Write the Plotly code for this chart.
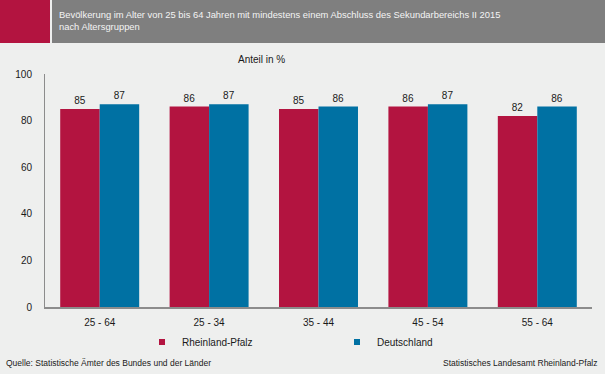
import plotly.graph_objects as go

categories = ["25 - 64", "25 - 34", "35 - 44", "45 - 54", "55 - 64"]
rlp_values = [85, 86, 85, 86, 82]
de_values = [87, 87, 86, 87, 86]
series_names = ["Rheinland-Pfalz", "Deutschland"]

RED = "#B31440"
BLUE = "#0071A3"
BG = "#EEEFEE"
HEADER_GRAY = "#7F7F7F"

W, H = 605, 374
L, R, T, B = 45, 13, 74, 67
PW = W - L - R
PH = H - T - B

def px(x):
    return (x - L) / PW

def py(y):
    return (H - B - y) / PH

fig = go.Figure()
for name, vals, col in [(series_names[0], rlp_values, RED), (series_names[1], de_values, BLUE)]:
    fig.add_trace(go.Bar(
        x=categories, y=vals, name=name, marker=dict(color=col, line=dict(width=0)),
        text=[str(v) for v in vals], textposition="outside",
        textfont=dict(size=10, color="#1a1a1a", family="Liberation Sans, Arial"),
        cliponaxis=False, showlegend=False, hoverinfo="skip",
    ))
    fig.add_trace(go.Scatter(
        x=[None], y=[None], mode="markers", name=name,
        marker=dict(symbol="square", size=6, color=col), showlegend=True,
    ))

fig.update_layout(
    width=W, height=H,
    margin=dict(l=L, r=R, t=T, b=B, pad=0),
    paper_bgcolor=BG, plot_bgcolor=BG,
    barmode="group", bargap=0.278, bargroupgap=0,
    font=dict(family="Liberation Sans, Arial", size=10, color="#1a1a1a"),
    showlegend=True,
    legend=dict(orientation="h", x=px(142), xanchor="left", y=py(342), yanchor="middle",
                entrywidth=150, entrywidthmode="pixels",
                font=dict(size=10, color="#1a1a1a"), bgcolor="rgba(0,0,0,0)",
                itemclick=False, itemdoubleclick=False),
    xaxis=dict(showgrid=False, showline=True, linecolor="#8C8C8C", linewidth=2,
               ticks="", tickfont=dict(size=10), ticklabelstandoff=5, zeroline=False,
               fixedrange=True),
    yaxis=dict(range=[0, 100], dtick=20, showgrid=False, showline=True, linecolor="#8C8C8C",
               linewidth=1, ticks="", tickfont=dict(size=10), ticklabelstandoff=10,
               zeroline=False, fixedrange=True),
    shapes=[
        dict(type="rect", xref="paper", yref="paper", x0=px(0), x1=px(50), y0=py(43), y1=py(0),
             fillcolor=RED, line=dict(width=0), layer="above"),
        dict(type="rect", xref="paper", yref="paper", x0=px(52), x1=px(605), y0=py(43), y1=py(0),
             fillcolor=HEADER_GRAY, line=dict(width=0), layer="above"),
    ],
    annotations=[
        dict(text="Bevölkerung im Alter von 25 bis 64 Jahren mit mindestens einem Abschluss des Sekundarbereichs II 2015<br>nach Altersgruppen",
             xref="paper", yref="paper", x=px(57), y=py(20.5), xanchor="left", yanchor="middle",
             align="left", showarrow=False, font=dict(size=9.4, color="#F4F4F4")),
        dict(text="Anteil in %", xref="paper", yref="paper", x=px(261), y=py(60),
             xanchor="center", yanchor="middle", showarrow=False, font=dict(size=10)),
        dict(text="Quelle: Statistische Ämter des Bundes und der Länder", xref="paper", yref="paper",
             x=px(4), y=py(363), xanchor="left", yanchor="middle", showarrow=False,
             font=dict(size=8.5)),
        dict(text="Statistisches Landesamt Rheinland-Pfalz", xref="paper", yref="paper",
             x=px(600), y=py(363), xanchor="right", yanchor="middle", showarrow=False,
             font=dict(size=8.5)),
    ],
)

fig.write_html("out.html", config={"displayModeBar": False},
               post_script="document.body.style.margin='0';document.body.style.overflow='hidden';")
